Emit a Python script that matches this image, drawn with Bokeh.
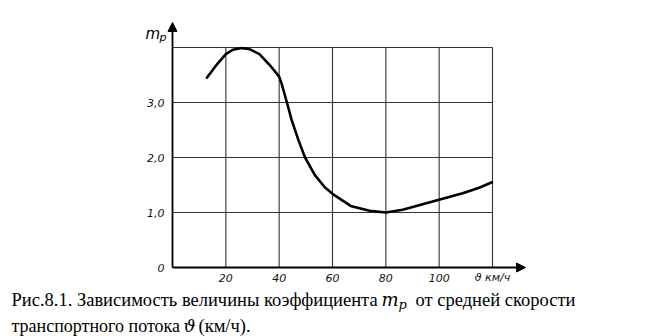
from bokeh.plotting import figure
from bokeh.models import Range1d, Label, Arrow, NormalHead, ColumnDataSource
from bokeh.core.properties import value
from bokeh.embed import file_html
from bokeh.resources import INLINE

# ---- data ----
speed = [12.9, 16.6, 20.0, 22.7, 25.8, 28.9, 32.6, 36.3, 40.0, 41.0, 42.9, 44.7,
         47.2, 49.7, 53.4, 57.1, 60.0, 66.8, 73.9, 80.0, 86.3, 93.8, 101.3, 108.8,
         115.0, 119.8]
mp = [3.45, 3.69, 3.88, 3.96, 3.99, 3.97, 3.88, 3.69, 3.47, 3.33, 3.00, 2.68,
      2.32, 2.00, 1.68, 1.46, 1.34, 1.12, 1.03, 1.00, 1.05, 1.15, 1.25, 1.35,
      1.45, 1.55]

x_grid = [20, 40, 60, 80, 100, 120]
y_grid = [1, 2, 3, 4]
x_ticks = [20, 40, 60, 80, 100, 120]
x_tick_labels = ["20", "40", "60", "80", "100", "ϑ км/ч"]
y_ticks = [0, 1, 2, 3]
y_tick_labels = ["0", "1,0", "2,0", "3,0"]

X_MAX_GRID = 120
Y_MAX_GRID = 4
X_AXIS_END = 132.4
Y_AXIS_END = 4.455

# ---- layout: frame covers the whole canvas ----
W, H = 658, 336
X0_PX, Y0_PX = 172, 267          # pixel position of the origin
KX, KY = 8 / 3, 55.0             # pixels per unit

def dx(px):
    return (px - X0_PX) / KX

def dy(py):
    return (Y0_PX - py) / KY

p = figure(width=W, height=H, output_backend="svg", toolbar_location=None,
           x_range=Range1d(dx(0), dx(W)), y_range=Range1d(dy(H), dy(0)),
           x_axis_location=None, y_axis_location=None, min_border=0)
p.outline_line_color = None
p.background_fill_color = "white"
p.border_fill_color = "white"
p.xgrid.visible = False
p.ygrid.visible = False

# grid lines
p.segment(x0=x_grid, y0=[0] * len(x_grid), x1=x_grid, y1=[Y_MAX_GRID] * len(x_grid),
          line_color="#333333", line_width=1.1)
p.segment(x0=[0] * len(y_grid), y0=y_grid, x1=[X_MAX_GRID] * len(y_grid), y1=y_grid,
          line_color="#333333", line_width=1.1)

# axes with arrows
p.add_layout(Arrow(end=NormalHead(size=9, fill_color="black", line_color="black"),
                   x_start=0, y_start=0, x_end=X_AXIS_END, y_end=0,
                   line_color="black", line_width=1.8))
p.add_layout(Arrow(end=NormalHead(size=9, fill_color="black", line_color="black"),
                   x_start=0, y_start=0, x_end=0, y_end=Y_AXIS_END,
                   line_color="black", line_width=1.8))

# tick labels
tick_font = value("DejaVu Sans")
p.text(x=x_ticks, y=[dy(277)] * len(x_ticks), text=x_tick_labels,
       text_font=tick_font, text_font_style="italic", text_font_size="11px",
       text_align="center", text_baseline="middle", text_color="#111111")
p.text(x=[dx(164)] * len(y_ticks), y=y_ticks, text=y_tick_labels,
       text_font=tick_font, text_font_style="italic", text_font_size="11px",
       text_align="right", text_baseline="middle", text_color="#111111")

# curve
src = ColumnDataSource(dict(x=speed, y=mp))
p.line("x", "y", source=src, line_color="black", line_width=2.6, line_join="round",
       line_cap="round")

def lab(px, py, t, font, style, size, baseline="alphabetic"):
    p.add_layout(Label(x=dx(px), y=dy(py), text=t, text_font=font,
                       text_font_style=style, text_font_size=size,
                       text_baseline=baseline, text_align="left",
                       text_color="black"))

# axis label m_p
lab(145, 33, "m", "DejaVu Sans", "italic", "15px")
lab(159, 37, "p", "DejaVu Sans", "italic", "11px")

# caption
CF = "Liberation Serif"
MF = "DejaVu Serif"
lab(11, 299, "Рис.8.1. Зависимость величины коэффициента", CF, "normal", "18.5px")
lab(381, 299, "m", MF, "italic", "18px")
lab(398, 304, "p", MF, "italic", "13px")
lab(415, 299, "от средней скорости", CF, "normal", "18.5px")
lab(11, 325, "транспортного потока", CF, "normal", "18px")
lab(183, 325, "ϑ", MF, "italic", "17px")
lab(198, 325, "(км/ч).", CF, "normal", "18.5px")

open("out.html", "w").write(file_html(p, INLINE))
